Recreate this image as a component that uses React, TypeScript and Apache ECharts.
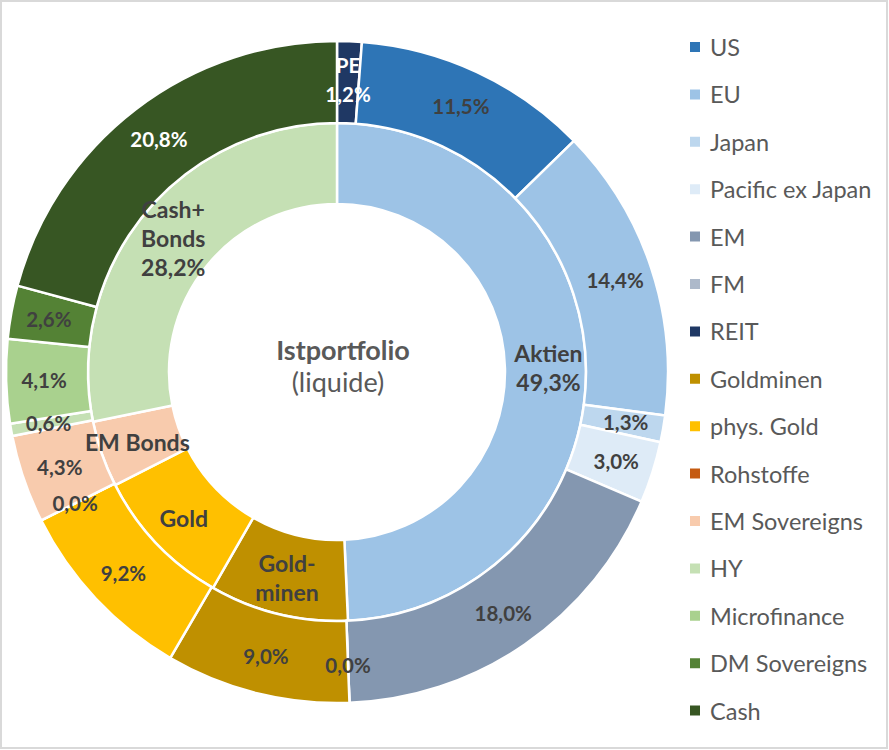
import React, { useEffect, useRef } from 'react';
import * as echarts from 'echarts';

// Outer ring (clockwise from 12 o'clock)
const outerNames = ['REIT', 'US', 'EU', 'Japan', 'Pacific ex Japan', 'EM', 'FM', 'Goldminen', 'phys. Gold', 'Rohstoffe', 'EM Sovereigns', 'HY', 'Microfinance', 'DM Sovereigns', 'Cash'];
const outerValues = [1.2, 11.5, 14.4, 1.3, 3.0, 18.0, 0.0, 9.0, 9.2, 0.0, 4.3, 0.6, 4.1, 2.6, 20.8];
const outerColors = ['#1F3864', '#2E75B6', '#9DC3E6', '#BDD7EE', '#DEEBF7', '#8497B0', '#ADB9CA', '#BF9000', '#FFC000', '#C55A11', '#F8CBAD', '#C5E0B4', '#A9D18E', '#548235', '#375623'];
const outerLabelPrefix: Record<string, string> = { REIT: 'PE' };
const whiteLabels = ['REIT', 'Cash'];

// Legend order
const legendNames = ['US', 'EU', 'Japan', 'Pacific ex Japan', 'EM', 'FM', 'REIT', 'Goldminen', 'phys. Gold', 'Rohstoffe', 'EM Sovereigns', 'HY', 'Microfinance', 'DM Sovereigns', 'Cash'];

// Inner ring
const innerNames = ['Aktien', 'Goldminen', 'Gold', 'EM Bonds', 'Cash+Bonds'];
const innerValues = [49.3, 9.0, 9.2, 4.3, 28.2];
const innerColors = ['#9DC3E6', '#BF9000', '#FFC000', '#F8CBAD', '#C5E0B4'];
const innerLabelText = ['Aktien', 'Gold-\nminen', 'Gold', 'EM Bonds', 'Cash+\nBonds'];
const innerShowValue = [true, false, false, false, true];

const centerTitle = 'Istportfolio';
const centerSubtitle = '(liquide)';

const fmt = (v: number) => v.toFixed(1).replace('.', ',') + '%';
const FONT = 'Lato';

export default function App() {
  const ref = useRef<HTMLDivElement>(null);
  useEffect(() => {
    if (!ref.current) return;
    const chart = echarts.init(ref.current, undefined, { renderer: 'svg' });
    const cx = 337;
    const cy = 372;
    chart.setOption({
      animation: false,
      backgroundColor: '#ffffff',
      legend: {
        orient: 'vertical',
        left: 683,
        top: 30,
        icon: 'rect',
        itemWidth: 12,
        itemHeight: 12,
        itemGap: 23.4,
        data: legendNames,
        selectedMode: false,
        textStyle: { fontFamily: FONT, fontSize: 23.5, color: '#595959', lineHeight: 24, padding: [0, 0, 0, 4] },
      },
      graphic: [
        {
          type: 'rect',
          shape: { x: 1, y: 1, width: 886, height: 747 },
          style: { fill: 'none', stroke: '#D9D9D9', lineWidth: 2 },
          silent: true,
        },
        {
          type: 'text',
          x: 343,
          y: 349,
          style: { text: centerTitle, fontFamily: FONT, fontSize: 27, fontWeight: 'bold', fill: '#595959', align: 'center', verticalAlign: 'middle' },
        },
        {
          type: 'text',
          x: 338,
          y: 381,
          style: { text: centerSubtitle, fontFamily: FONT, fontSize: 27, fill: '#595959', align: 'center', verticalAlign: 'middle' },
        },
      ],
      series: [
        {
          type: 'pie',
          name: 'inner',
          center: [cx, cy],
          radius: [168, 249],
          startAngle: 90,
          clockwise: true,
          avoidLabelOverlap: false,
          emphasis: { disabled: true },
          itemStyle: { borderColor: '#ffffff', borderWidth: 2.5 },
          label: {
            show: true,
            position: 'inside',
            fontFamily: FONT,
            fontSize: 23,
            fontWeight: 'bold',
            color: '#404040',
            lineHeight: 29,
          },
          labelLine: { show: false },
          data: innerNames.map((n, i) => ({
            name: n,
            value: innerValues[i],
            itemStyle: { color: innerColors[i] },
            label: { formatter: innerShowValue[i] ? innerLabelText[i] + '\n' + fmt(innerValues[i]) : innerLabelText[i] },
          })),
        },
        {
          type: 'pie',
          name: 'outer',
          center: [cx, cy],
          radius: [249, 331],
          startAngle: 90,
          clockwise: true,
          avoidLabelOverlap: false,
          emphasis: { disabled: true },
          itemStyle: { borderColor: '#ffffff', borderWidth: 2.5 },
          label: {
            show: true,
            position: 'inside',
            fontFamily: FONT,
            fontSize: 20.5,
            fontWeight: 'bold',
            color: '#404040',
            lineHeight: 29,
          },
          labelLine: { show: false },
          data: outerNames.map((n, i) => ({
            name: n,
            value: outerValues[i],
            itemStyle: { color: outerColors[i] },
            label: {
              formatter: (outerLabelPrefix[n] ? outerLabelPrefix[n] + '\n' : '') + fmt(outerValues[i]),
              color: whiteLabels.includes(n) ? '#ffffff' : '#404040',
            },
          })),
        },
      ],
    });
    return () => chart.dispose();
  }, []);
  return <div ref={ref} style={{ position: 'fixed', left: 0, top: 0, width: 889, height: 750 }} />;
}
